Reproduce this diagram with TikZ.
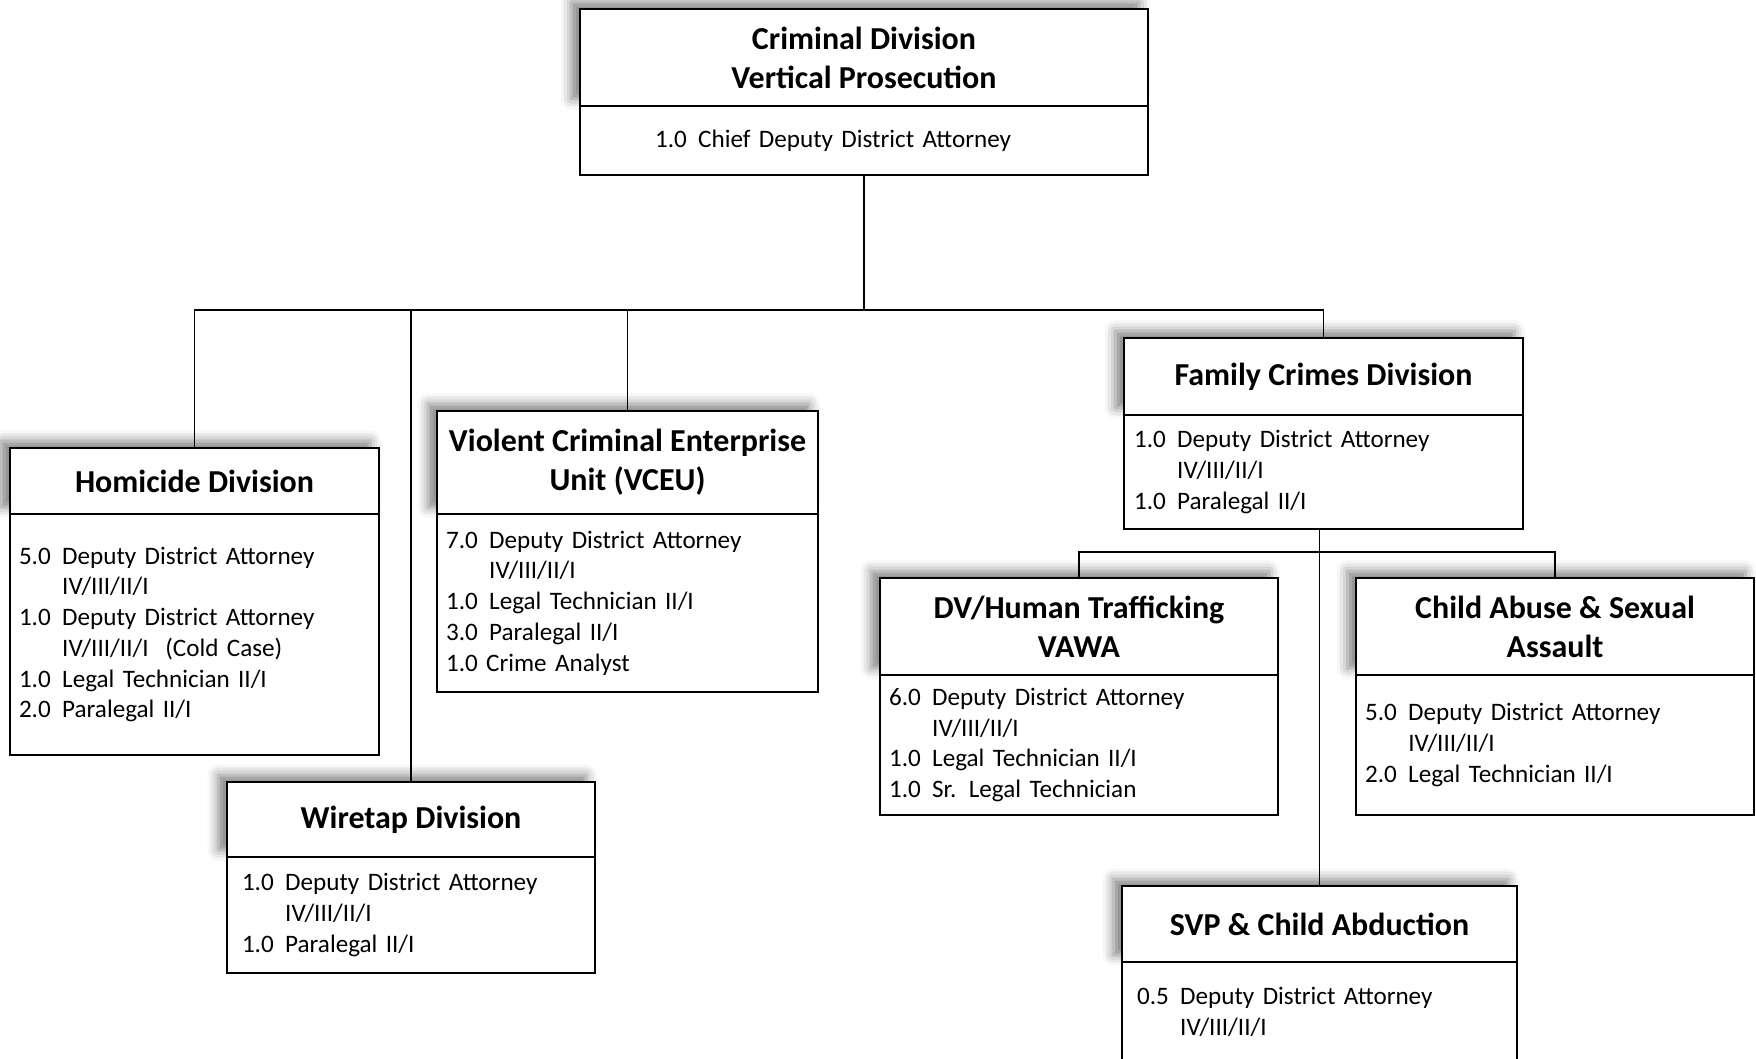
\documentclass[tikz,border=0pt]{standalone}
\usepackage{fontspec}
\setmainfont{Carlito}
\usetikzlibrary{positioning, shadows.blur}
\newcommand{\fte}[1]{\makebox[1.72em][l]{#1}}
\newcommand{\ind}{\hspace*{1.72em}}
\tikzset{
  every picture/.style={line width=0.5pt},
  head/.style={draw, fill=white, align=center, inner sep=0pt, outer sep=0pt, minimum width=#1,
    font=\fontsize{9.1}{11.1}\selectfont\bfseries,
    blur shadow={shadow xshift=-2.5pt, shadow yshift=2pt, shadow blur radius=3pt, shadow opacity=50}},
  body/.style={draw, fill=white, align=left, inner xsep=0.09cm, inner ysep=0pt, outer sep=0pt,
    minimum height=#1, font=\fontsize{7.15}{8.75}\selectfont},
  link/.style={draw, line width=0.5pt},
}
\begin{document}
\begin{tikzpicture}
  \useasboundingbox (0,0) rectangle (17.56,-10.58);
  % top of the chart
  \node[head=5.68cm, minimum height=0.97cm] (crim) at (8.64,-0.575) {Criminal Division\\Vertical Prosecution};
  \node[body=0.69cm, text width=4.18cm, inner xsep=0.75cm, below=0pt of crim] (crimb) {\fte{1.0}Chief Deputy District Attorney};
  % units under the chief
  \node[head=3.69cm, minimum height=0.66cm] (hom) at (1.945,-4.81) {Homicide Division};
  \node[body=2.41cm, text width=3.51cm, below=0pt of hom] (homb) {\fte{5.0}Deputy District Attorney\\ \ind IV/III/II/I\\ \fte{1.0}Deputy District Attorney\\ \ind IV/III/II/I\ \ (Cold Case)\\ \fte{1.0}Legal Technician II/I\\ \fte{2.0}Paralegal II/I};
  \node[head=3.68cm, minimum height=0.75cm] (wire) at (4.11,-8.195) {Wiretap Division};
  \node[body=1.16cm, text width=3.38cm, inner xsep=0.15cm, below=0pt of wire] (wireb) {\fte{1.0}Deputy District Attorney\\ \ind IV/III/II/I\\ \fte{1.0}Paralegal II/I};
  \node[head=3.81cm, minimum height=1.03cm] (vceu) at (6.275,-4.625) {Violent Criminal Enterprise\\Unit (VCEU)};
  \node[body=1.78cm, text width=3.63cm, below=0pt of vceu] (vceub) {\fte{7.0}Deputy District Attorney\\ \ind IV/III/II/I\\ \fte{1.0}Legal Technician II/I\\ \fte{3.0}Paralegal II/I\\ 1.0 Crime Analyst};
  \node[head=3.99cm, minimum height=0.77cm] (fam) at (13.235,-3.765) {Family Crimes Division};
  \node[body=1.14cm, text width=3.79cm, inner xsep=0.10cm, below=0pt of fam] (famb) {\fte{1.0}Deputy District Attorney\\ \ind IV/III/II/I\\ \fte{1.0}Paralegal II/I};
  % family crimes units
  \node[head=3.98cm, minimum height=0.97cm] (dv) at (10.79,-6.265) {DV/Human Trafficking\\VAWA};
  \node[body=1.40cm, text width=3.80cm, below=0pt of dv] (dvb) {\fte{6.0}Deputy District Attorney\\ \ind IV/III/II/I\\ \fte{1.0}Legal Technician II/I\\ \fte{1.0}Sr. Legal Technician};
  \node[head=3.98cm, minimum height=0.97cm] (child) at (15.55,-6.265) {Child Abuse \& Sexual\\Assault};
  \node[body=1.40cm, text width=3.80cm, below=0pt of child] (childb) {\fte{5.0}Deputy District Attorney\\ \ind IV/III/II/I\\ \fte{2.0}Legal Technician II/I};
  \node[head=3.95cm, minimum height=0.76cm] (svp) at (13.195,-9.24) {SVP \& Child Abduction};
  \node[body=1.0cm, text width=3.65cm, inner xsep=0.15cm, below=0pt of svp] (svpb) {\fte{0.5}Deputy District Attorney\\ \ind IV/III/II/I};
  % connectors
  \coordinate (bus) at (crimb.south |- 0,-3.10);
  \coordinate (fbus) at (svp.north |- 0,-5.52);
  \draw[link] (crimb.south) -- (bus);
  \draw[link] (hom.north) |- (bus);
  \draw[link] (wire.north) |- (bus);
  \draw[link] (vceu.north) |- (bus);
  \draw[link] (fam.north) |- (bus);
  \draw[link] (svp.north) -- (svp.north |- famb.south);
  \draw[link] (dv.north) |- (fbus);
  \draw[link] (child.north) |- (fbus);
\end{tikzpicture}
\end{document}
